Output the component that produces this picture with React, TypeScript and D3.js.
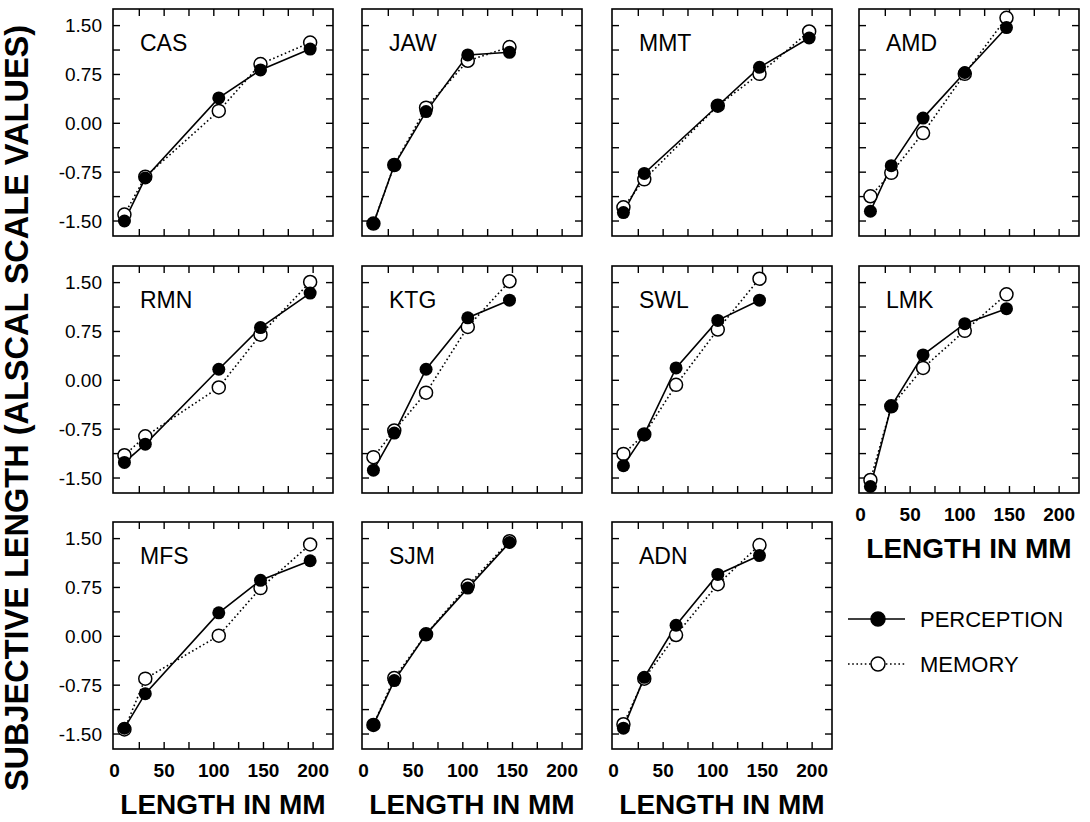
import React from 'react';
import * as d3 from 'd3';

// ==== data

const subjects = ['CAS', 'JAW', 'MMT', 'AMD', 'RMN', 'KTG', 'SWL', 'LMK', 'MFS', 'SJM', 'ADN'];

// stimulus lengths (mm); two sets were used
const lengthsLong = [10, 31, 105, 147, 197];
const lengthsShort = [10, 31, 63, 105, 147];

const subjectLengths = [
    lengthsLong, lengthsShort, lengthsLong, lengthsShort,
    lengthsLong, lengthsShort, lengthsShort, lengthsShort,
    lengthsLong, lengthsShort, lengthsShort
];

const perceptionValues = [
    [-1.50, -0.84, 0.39, 0.82, 1.14],
    [-1.54, -0.64, 0.18, 1.05, 1.09],
    [-1.37, -0.77, 0.27, 0.86, 1.31],
    [-1.35, -0.65, 0.08, 0.78, 1.47],
    [-1.26, -0.98, 0.17, 0.81, 1.34],
    [-1.38, -0.81, 0.17, 0.96, 1.23],
    [-1.31, -0.83, 0.19, 0.92, 1.23],
    [-1.63, -0.40, 0.39, 0.87, 1.10],
    [-1.41, -0.88, 0.36, 0.86, 1.16],
    [-1.36, -0.68, 0.03, 0.74, 1.44],
    [-1.41, -0.63, 0.17, 0.95, 1.24]
];

const memoryValues = [
    [-1.40, -0.82, 0.19, 0.91, 1.24],
    [-1.54, -0.64, 0.24, 0.96, 1.17],
    [-1.29, -0.86, 0.27, 0.76, 1.41],
    [-1.12, -0.76, -0.15, 0.76, 1.62],
    [-1.15, -0.86, -0.11, 0.70, 1.51],
    [-1.18, -0.77, -0.19, 0.82, 1.52],
    [-1.13, -0.83, -0.07, 0.78, 1.56],
    [-1.53, -0.40, 0.19, 0.76, 1.32],
    [-1.43, -0.65, 0.01, 0.74, 1.41],
    [-1.36, -0.64, 0.03, 0.78, 1.46],
    [-1.35, -0.65, 0.02, 0.80, 1.40]
];

const yTickValues = [-1.5, -1.125, -0.75, -0.375, 0, 0.375, 0.75, 1.125, 1.5];
const yTickLabels = ['-1.50', '', '-0.75', '', '0.00', '', '0.75', '', '1.50'];
const xTickValues = [25, 50, 75, 100, 125, 150, 175, 200];
const xLabelValues = [0, 50, 100, 150, 200];

const legendItems = ['PERCEPTION', 'MEMORY'];

// ====

const FONT = 'Liberation Sans, Arial, Helvetica, sans-serif';
const colLeft = [113, 362, 612, 859];
const rowTop = [9, 266, 522];
const panelW = 220;
const panelH = 227;
const tickLen = 7;
const radius = 6.5;

const x = d3.scaleLinear().domain([-1.5, 220]).range([0, panelW]);
const y = d3.scaleLinear().domain([-1.73, 1.755]).range([panelH, 0]);

const lineGen = d3.line<[number, number]>()
    .x((d) => x(d[0]))
    .y((d) => y(d[1]));

function Panel({ index }: { index: number }) {
    const row = Math.floor(index / 4);
    const col = index % 4;
    const lengths = subjectLengths[index];
    const perc = lengths.map((l, i) => [l, perceptionValues[index][i]] as [number, number]);
    const mem = lengths.map((l, i) => [l, memoryValues[index][i]] as [number, number]);
    const showY = col === 0;
    const showX = row === 2 || (row === 1 && col === 3);

    return (
        <g transform={`translate(${colLeft[col]}, ${rowTop[row]})`}>
            {yTickValues.map((v) => (
                <g key={`y${v}`}>
                    <line x1={0} x2={tickLen} y1={y(v)} y2={y(v)} stroke="#000" strokeWidth={1.4} />
                    <line x1={panelW - tickLen} x2={panelW} y1={y(v)} y2={y(v)} stroke="#000" strokeWidth={1.4} />
                </g>
            ))}
            {xTickValues.map((v) => (
                <g key={`x${v}`}>
                    <line x1={x(v)} x2={x(v)} y1={panelH} y2={panelH - tickLen} stroke="#000" strokeWidth={1.4} />
                    <line x1={x(v)} x2={x(v)} y1={0} y2={tickLen} stroke="#000" strokeWidth={1.4} />
                </g>
            ))}
            <rect x={0} y={0} width={panelW} height={panelH} fill="none" stroke="#000" strokeWidth={1.6} />

            {showY && yTickValues.map((v, i) => (
                <text key={`yl${v}`} x={-11} y={y(v)} dy="0.36em" textAnchor="end"
                      fontFamily={FONT} fontSize={19}>{yTickLabels[i]}</text>
            ))}
            {showX && xLabelValues.map((v) => (
                <text key={`xl${v}`} x={x(v)} y={panelH + 28} textAnchor="middle"
                      fontFamily={FONT} fontSize={19} fontWeight="bold">{v}</text>
            ))}
            {showX && (
                <text x={panelW / 2} y={panelH + 65} textAnchor="middle"
                      fontFamily={FONT} fontSize={28} fontWeight="bold">LENGTH IN MM</text>
            )}

            <text x={27} y={42} fontFamily={FONT} fontSize={23}>{subjects[index]}</text>

            <path d={lineGen(mem) || ''} fill="none" stroke="#000" strokeWidth={1.6}
                  strokeDasharray="1.6,2.6" />
            <path d={lineGen(perc) || ''} fill="none" stroke="#000" strokeWidth={1.6} />
            {mem.map((d, i) => (
                <circle key={`m${i}`} cx={x(d[0])} cy={y(d[1])} r={radius}
                        fill="#fff" stroke="#000" strokeWidth={1.5} />
            ))}
            {perc.map((d, i) => (
                <circle key={`p${i}`} cx={x(d[0])} cy={y(d[1])} r={radius} fill="#000" />
            ))}
        </g>
    );
}

function Legend() {
    const left = 848;
    const top = 619;
    const gap = 45;
    return (
        <g>
            {legendItems.map((name, i) => {
                const cy = top + i * gap;
                return (
                    <g key={name}>
                        <line x1={left} x2={left + 57} y1={cy} y2={cy} stroke="#000" strokeWidth={1.6}
                              strokeDasharray={i === 1 ? '1.6,2.6' : undefined} />
                        <circle cx={left + 30} cy={cy} r={radius + 0.5}
                                fill={i === 0 ? '#000' : '#fff'} stroke="#000" strokeWidth={1.5} />
                        <text x={left + 72} y={cy} dy="0.36em" fontFamily={FONT} fontSize={22}>{name}</text>
                    </g>
                );
            })}
        </g>
    );
}

export default function App() {
    return (
        <svg width={1090} height={822} style={{ position: 'absolute', left: 0, top: 0, background: '#fff' }}>
            <rect width={1090} height={822} fill="#fff" />
            <text transform="translate(28, 408) rotate(-90)" textAnchor="middle"
                  fontFamily={FONT} fontSize={32.5} fontWeight="bold">
                SUBJECTIVE LENGTH (ALSCAL SCALE VALUES)
            </text>
            {subjects.map((s, i) => <Panel key={s} index={i} />)}
            <Legend />
        </svg>
    );
}
